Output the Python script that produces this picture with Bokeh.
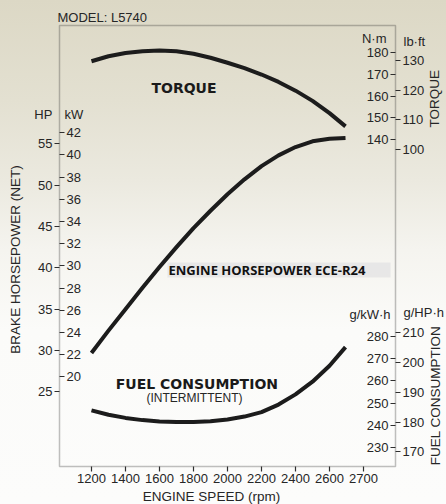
import math
from bokeh.plotting import figure
from bokeh.models import Range1d, LinearAxis, FixedTicker, Label, BoxAnnotation
from bokeh.embed import file_html
from bokeh.resources import INLINE

# ---------------- data ----------------
# engine speed positions (the last tick "2700" sits one full step after 2600)
engine_speed = [1200, 1300, 1400, 1500, 1600, 1700, 1800, 1900, 2000,
                2100, 2200, 2300, 2400, 2500, 2600, 2694]
power_hp = [29.7, 32.4, 35.0, 37.6, 40.1, 42.5, 44.8, 46.9, 48.9,
            50.7, 52.3, 53.6, 54.6, 55.3, 55.6, 55.7]
torque_nm = [176.0, 178.3, 179.8, 180.6, 180.9, 180.6, 179.4, 177.6, 175.3,
             172.8, 169.9, 166.5, 162.5, 157.8, 152.2, 146.1]
fuel_gkwh = [246.7, 244.7, 243.3, 242.3, 241.7, 241.4, 241.4, 241.8, 242.6,
             243.9, 245.9, 249.3, 253.9, 259.6, 266.8, 275.2]

x_ticks = [1200, 1400, 1600, 1800, 2000, 2200, 2400, 2600, 2800]
x_tick_labels = ["1200", "1400", "1600", "1800", "2000", "2200", "2400", "2600", "2700"]
hp_ticks = [25, 30, 35, 40, 45, 50, 55]
kw_ticks = [20, 22, 24, 26, 28, 30, 32, 34, 36, 38, 40, 42]
nm_ticks = [140, 150, 160, 170, 180]
lbft_ticks = [100, 110, 120, 130]
gkwh_ticks = [230, 240, 250, 260, 270, 280]
ghph_ticks = [170, 180, 190, 200, 210]

HP_TO_KW = 0.7457
NM_PER_LBFT = 1.35582

# ---------------- layout geometry (pixels) ----------------
W, H = 446, 504
BOX_L, BOX_R, BOX_T, BOX_B = 59, 395, 25, 466

# data values at the box edges
x_lo, x_hi = 1012, 2988
hp_lo, hp_hi = 15.97, 69.30
nm_lo, nm_hi = -9.91, 192.39
gk_lo, gk_hi = 221.4, 420.1


def xr(lo, hi):
    s = (hi - lo) / (BOX_R - BOX_L)
    return Range1d(lo - BOX_L * s, hi + (W - BOX_R) * s)


def yr(lo, hi):
    s = (hi - lo) / (BOX_B - BOX_T)
    return Range1d(lo - (H - BOX_B) * s, hi + BOX_T * s)


p = figure(width=W, height=H, x_range=xr(x_lo, x_hi), y_range=yr(hp_lo, hp_hi),
           x_axis_type=None, y_axis_type=None, title=None,
           toolbar_location=None, output_backend="svg",
           min_border_left=0, min_border_right=0, min_border_top=0, min_border_bottom=0)
p.extra_y_ranges = {
    "kw": yr(hp_lo * HP_TO_KW, hp_hi * HP_TO_KW),
    "nm": yr(nm_lo, nm_hi),
    "lbft": yr(nm_lo / NM_PER_LBFT, nm_hi / NM_PER_LBFT),
    "gkwh": yr(gk_lo, gk_hi),
    "ghph": yr(gk_lo * HP_TO_KW, gk_hi * HP_TO_KW),
}
p.grid.visible = False
p.border_fill_color = None
p.background_fill_color = None
p.outline_line_color = None
p.styles = {"background-image": "linear-gradient(to bottom, #dcd8c5 0px, #e3e0d1 100px, #ebe9df 180px, #f5f4ef 250px, #fbfbf9 330px, #fcfcfb 100%)"}

# chart box
p.add_layout(BoxAnnotation(left=x_lo, right=x_hi, bottom=hp_lo, top=hp_hi,
                           fill_color=None, line_color="#2e2e2e", line_width=1.5))

TXT = "#262626"
FONT = "Liberation Sans"


def style_axis(ax, label_standoff):
    ax.axis_line_color = None
    ax.major_tick_line_color = "#2e2e2e"
    ax.major_tick_line_width = 1.2
    ax.major_tick_out = 5
    ax.major_tick_in = 0
    ax.minor_tick_line_color = None
    ax.major_label_text_font = FONT
    ax.major_label_text_font_size = "13px"
    ax.major_label_text_color = TXT
    ax.major_label_standoff = label_standoff
    ax.axis_label_text_font = FONT
    ax.axis_label_text_font_size = "13.5px"
    ax.axis_label_text_font_style = "normal"
    ax.axis_label_text_color = TXT
    return ax


# x axis
xax = LinearAxis(ticker=FixedTicker(ticks=x_ticks),
                 major_label_overrides={t: s for t, s in zip(x_ticks, x_tick_labels)},
                 fixed_location=hp_lo, axis_label="ENGINE SPEED (rpm)",
                 bounds=(x_lo, 2800))
style_axis(xax, 2)
xax.axis_label_standoff = 3
p.add_layout(xax, "below")

# HP (outer left)
hpax = LinearAxis(ticker=FixedTicker(ticks=hp_ticks), fixed_location=x_lo,
                  axis_label="BRAKE HORSEPOWER (NET)", bounds=(24, 58))
style_axis(hpax, 2)
hpax.axis_label_standoff = 12
p.add_layout(hpax, "left")

# kW (inner left)
kwax = LinearAxis(y_range_name="kw", ticker=FixedTicker(ticks=kw_ticks), fixed_location=x_lo)
style_axis(kwax, 2)
p.add_layout(kwax, "right")

# N·m (inner right)
nmax = LinearAxis(y_range_name="nm", ticker=FixedTicker(ticks=nm_ticks), fixed_location=x_hi)
style_axis(nmax, 2)
p.add_layout(nmax, "left")

# g/kW·h (inner right)
gkax = LinearAxis(y_range_name="gkwh", ticker=FixedTicker(ticks=gkwh_ticks), fixed_location=x_hi)
style_axis(gkax, 2)
p.add_layout(gkax, "left")

# lb·ft (outer right); the rotated title starts at the middle of the bounds
lbax = LinearAxis(y_range_name="lbft", ticker=FixedTicker(ticks=lbft_ticks), fixed_location=x_hi,
                  axis_label="TORQUE", bounds=(84.8, 130))
style_axis(lbax, 2)
lbax.axis_label_standoff = 7
lbax.axis_label_orientation = math.pi / 2
p.add_layout(lbax, "right")

# g/HP·h (outer right)
ghax = LinearAxis(y_range_name="ghph", ticker=FixedTicker(ticks=ghph_ticks), fixed_location=x_hi)
style_axis(ghax, 2)
p.add_layout(ghax, "right")

# band behind the horsepower caption
p.add_layout(BoxAnnotation(left=1647, right=2959, bottom=38.83, top=40.64,
                           fill_color="#e6e6e6", fill_alpha=0.9, line_color=None, level="underlay"))

# curves
LINE = "#1c1c1c"
p.line(engine_speed, power_hp, line_width=4, line_color=LINE, line_join="round")
p.line(engine_speed, torque_nm, line_width=4, line_color=LINE, line_join="round", y_range_name="nm")
p.line(engine_speed, fuel_gkwh, line_width=4, line_color=LINE, line_join="round", y_range_name="gkwh")


def lab(x, y, text, size="13px", font=FONT, style="normal", align="left", color=TXT, angle=0.0):
    p.add_layout(Label(x=x, y=y, text=text, text_font=font, text_font_size=size,
                       text_font_style=style, text_align=align, text_baseline="middle",
                       text_color=color, angle=angle))


lab(1000, 70.27, "MODEL: L5740")
lab(970, 58.5, "HP", align="right")
lab(1041, 58.5, "kW")
lab(2935, 67.7, "N·m", align="right")
lab(3035, 67.4, "lb·ft")
lab(2959, 34.35, "g/kW·h", align="right")
lab(3035, 34.6, "g/HP·h")
lab(3226, 24.56, "FUEL CONSUMPTION", size="13.5px", align="center", angle=math.pi / 2)

lab(1744, 61.7, "TORQUE", size="14px", font="DejaVu Sans", style="bold", align="center", color="#1a1a1a")
lab(1820, 26.0, "FUEL CONSUMPTION", size="14px", font="DejaVu Sans", style="bold", align="center", color="#1a1a1a")
lab(1806, 24.3, "(INTERMITTENT)", size="12px", align="center")
lab(1653, 39.75, "ENGINE HORSEPOWER ECE-R24", size="13px", font="Open Sans", style="bold", color="#111111")

open("out.html", "w").write(file_html(p, INLINE))
